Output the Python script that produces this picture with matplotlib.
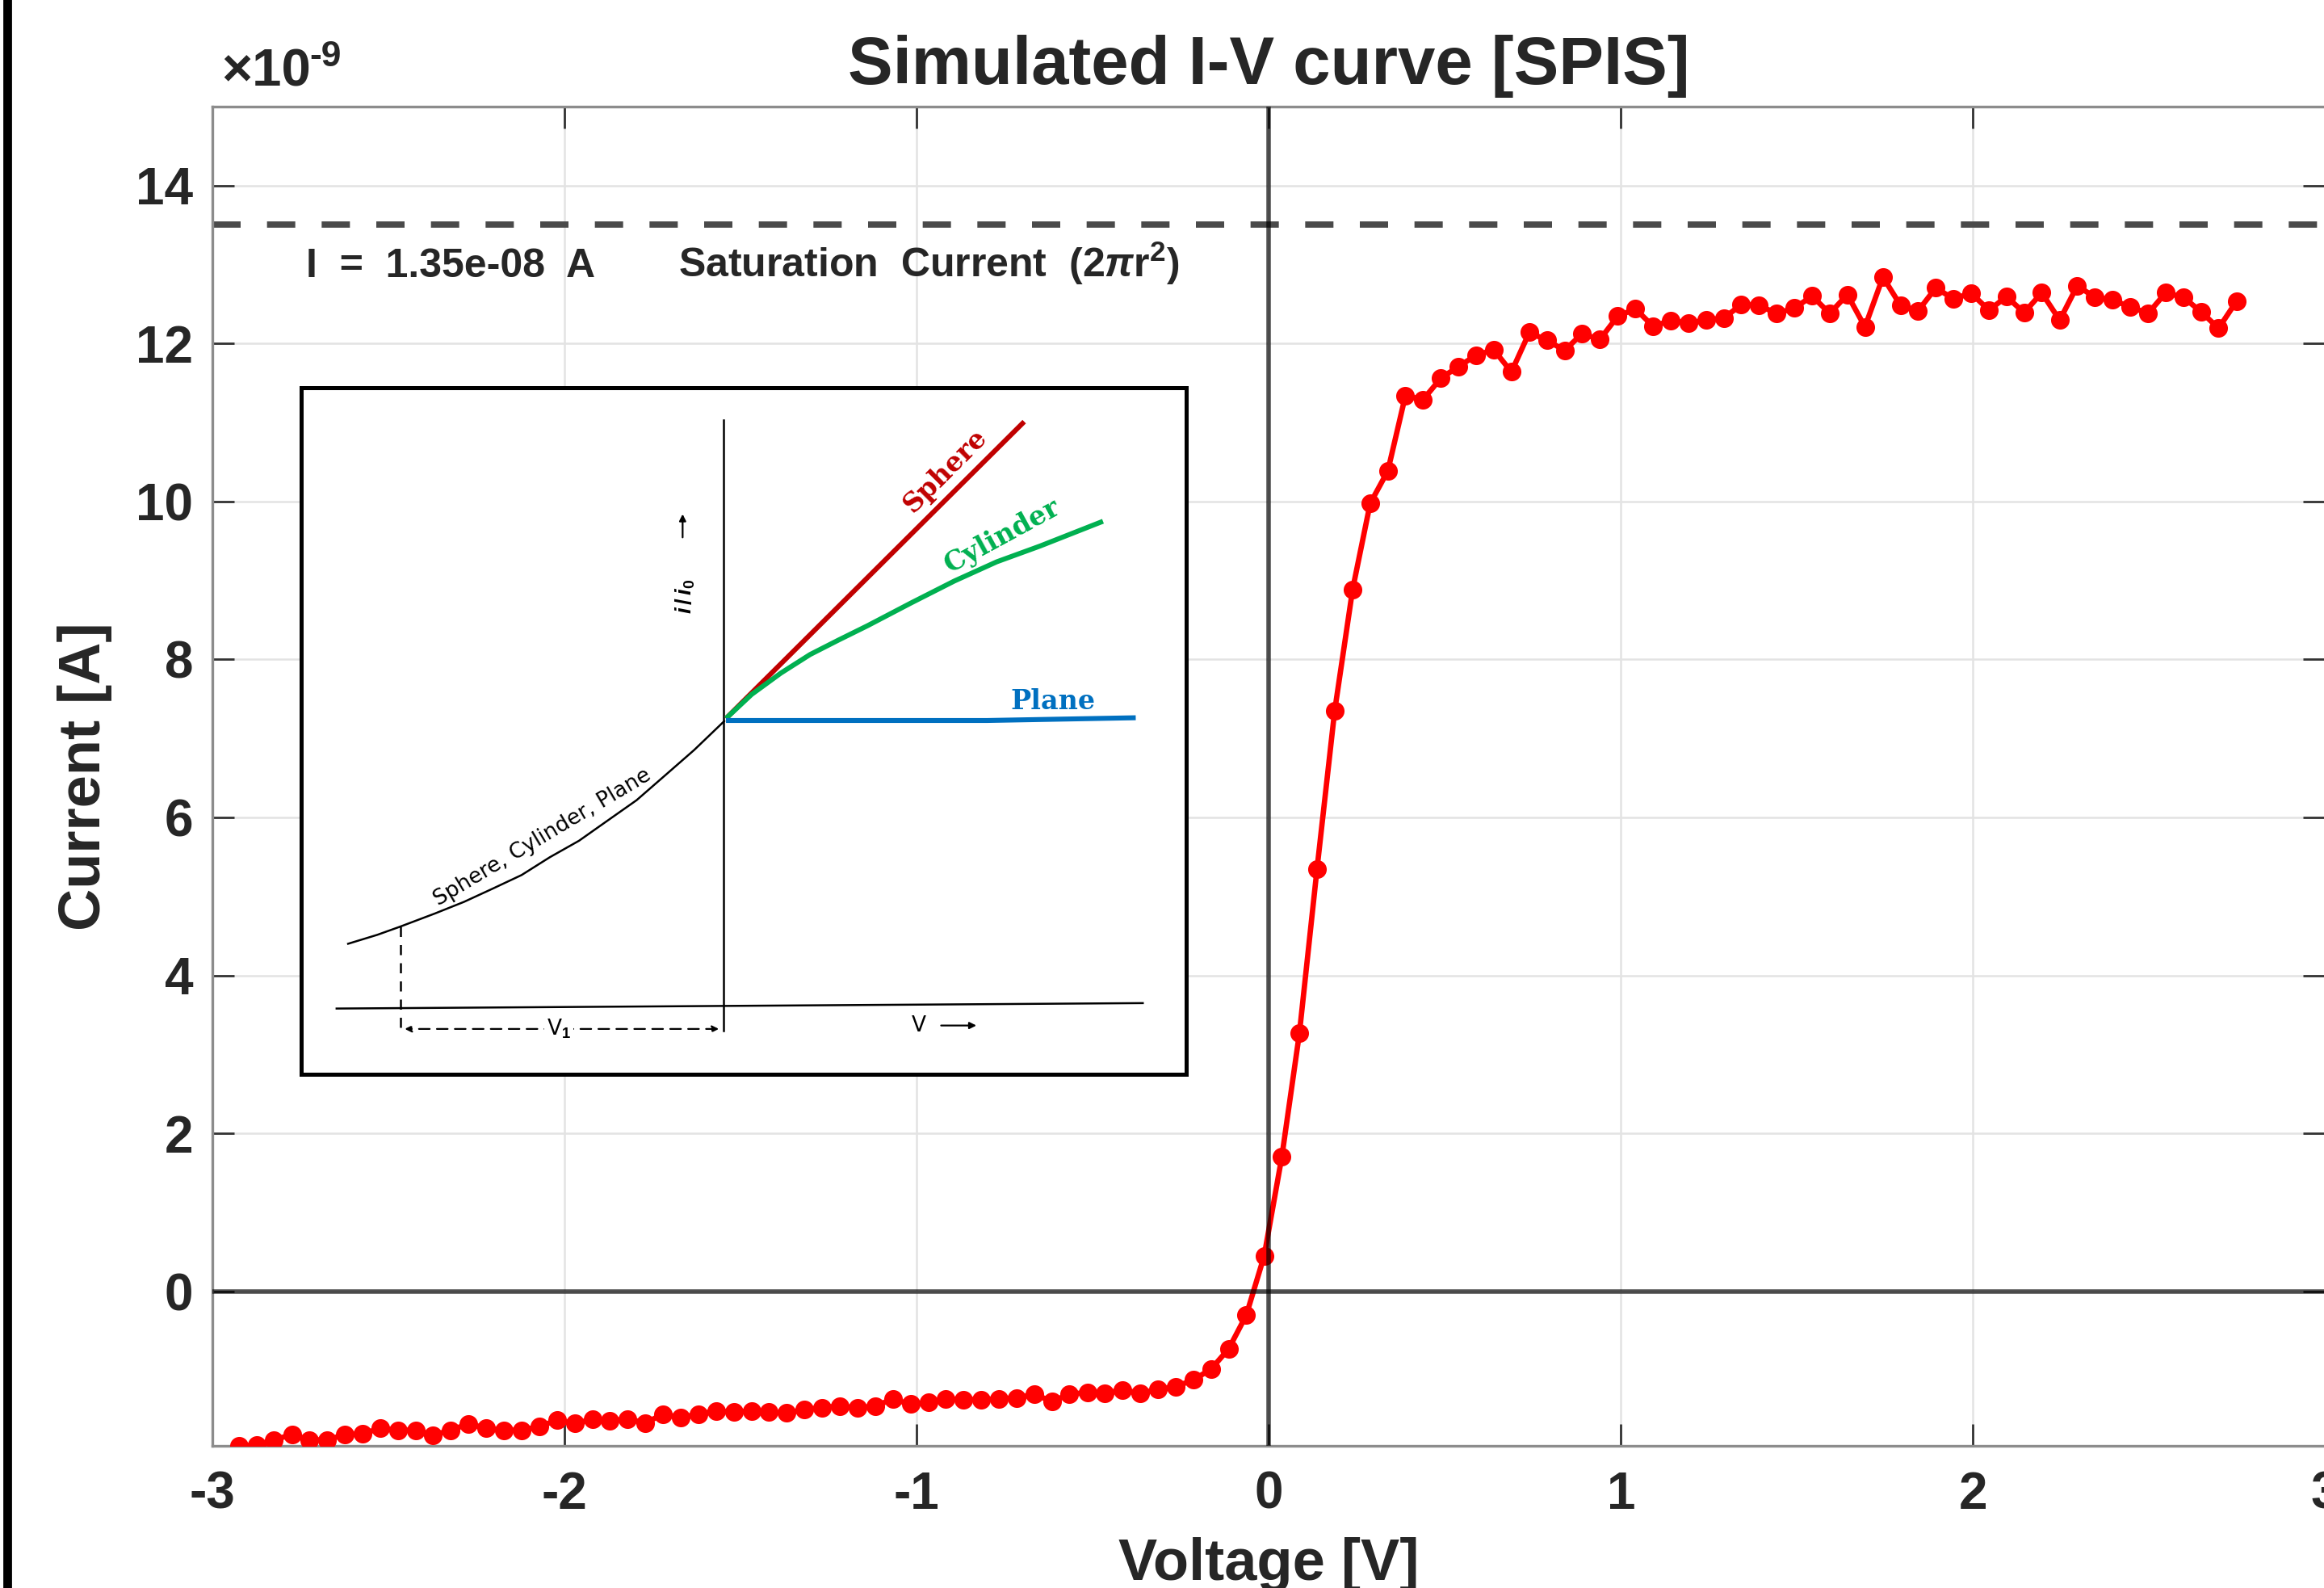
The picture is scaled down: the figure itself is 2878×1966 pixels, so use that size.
import numpy as np
import matplotlib

matplotlib.use('Agg')
import matplotlib.pyplot as plt
from matplotlib.patches import Rectangle

plt.rcParams['font.family'] = ['Liberation Sans', 'DejaVu Sans']
plt.rcParams['font.weight'] = 'bold'
plt.rcParams['axes.labelweight'] = 'bold'
plt.rcParams['axes.unicode_minus'] = False
plt.rcParams['mathtext.fontset'] = 'custom'
plt.rcParams['mathtext.rm'] = 'Liberation Sans:bold'
plt.rcParams['mathtext.it'] = 'Liberation Sans:italic:bold'
plt.rcParams['mathtext.bf'] = 'Liberation Sans:bold'

# sweep voltages [V]
voltage = [
    -2.925, -2.875, -2.825, -2.774, -2.724, -2.674, -2.624, -2.574, -2.523, -2.473,
    -2.423, -2.373, -2.323, -2.272, -2.222, -2.172, -2.122, -2.072, -2.021, -1.971,
    -1.921, -1.871, -1.821, -1.770, -1.720, -1.670, -1.620, -1.570, -1.519, -1.469,
    -1.419, -1.369, -1.319, -1.268, -1.218, -1.168, -1.118, -1.068, -1.017, -0.967,
    -0.917, -0.867, -0.817, -0.766, -0.716, -0.666, -0.616, -0.566, -0.515, -0.465,
    -0.415, -0.365, -0.315, -0.264, -0.214, -0.164, -0.114, -0.064, -0.013, 0.037,
    0.087, 0.137, 0.187, 0.238, 0.288, 0.338, 0.388, 0.438, 0.489, 0.539,
    0.589, 0.639, 0.689, 0.740, 0.790, 0.840, 0.890, 0.940, 0.991, 1.041,
    1.091, 1.141, 1.191, 1.242, 1.292, 1.342, 1.392, 1.442, 1.493, 1.543,
    1.593, 1.643, 1.693, 1.744, 1.794, 1.844, 1.894, 1.944, 1.995, 2.045,
    2.095, 2.145, 2.195, 2.246, 2.296, 2.346, 2.396, 2.446, 2.497, 2.547,
    2.597, 2.647, 2.697, 2.748,
]

# collected current, in units of 1e-9 A
current_nA = [
    -1.953, -1.945, -1.878, -1.810, -1.878, -1.878, -1.810, -1.800, -1.731, -1.755,
    -1.755, -1.817, -1.755, -1.673, -1.731, -1.755, -1.755, -1.708, -1.629, -1.668,
    -1.619, -1.639, -1.612, -1.663, -1.551, -1.595, -1.551, -1.510, -1.527, -1.510,
    -1.527, -1.537, -1.493, -1.469, -1.449, -1.476, -1.449, -1.363, -1.425, -1.405,
    -1.357, -1.367, -1.367, -1.357, -1.346, -1.299, -1.391, -1.299, -1.278, -1.288,
    -1.244, -1.288, -1.237, -1.203, -1.118, -0.982, -0.726, -0.300, 0.453, 1.704,
    3.270, 5.350, 7.346, 8.885, 9.976, 10.385, 11.339, 11.288, 11.561, 11.708,
    11.851, 11.919, 11.639, 12.140, 12.038, 11.912, 12.124, 12.048, 12.345, 12.437,
    12.219, 12.287, 12.256, 12.294, 12.321, 12.491, 12.481, 12.379, 12.447, 12.600,
    12.379, 12.618, 12.209, 12.840, 12.481, 12.413, 12.702, 12.566, 12.635, 12.420,
    12.592, 12.389, 12.641, 12.294, 12.730, 12.584, 12.549, 12.464, 12.379, 12.641,
    12.584, 12.403, 12.191, 12.532,
]

I_sat = 1.35e-8  # saturation current [A]

x_ticks = [-3, -2, -1, 0, 1, 2, 3]
y_ticks = [0, 2, 4, 6, 8, 10, 12, 14]

# inset sketch (after the classic probe-theory figure), in inset fractions
common_x = [0.053, 0.086, 0.112, 0.151, 0.184, 0.216, 0.249, 0.281, 0.314, 0.347, 0.379, 0.412, 0.444, 0.478]
common_y = [0.190, 0.203, 0.215, 0.234, 0.251, 0.270, 0.290, 0.316, 0.340, 0.370, 0.399, 0.436, 0.472, 0.514]
sphere_x = [0.480, 0.817]
sphere_y = [0.518, 0.950]
cylinder_x = [0.480, 0.509, 0.542, 0.575, 0.607, 0.640, 0.689, 0.738, 0.786, 0.835, 0.906]
cylinder_y = [0.518, 0.553, 0.584, 0.611, 0.632, 0.653, 0.686, 0.718, 0.746, 0.769, 0.805]
plane_x = [0.480, 0.775, 0.943]
plane_y = [0.515, 0.515, 0.519]

txt = '#262626'

fig = plt.figure(figsize=(14.39, 9.83), dpi=200)
ax = fig.add_axes([0.09138, 0.08952, 0.90914, 0.84349])

ax.plot(voltage, current_nA, '-o', color='red', lw=2.4, ms=7.3, zorder=3)
ax.axhline(0, color='black', alpha=0.68, lw=2.0, zorder=4)
ax.axvline(0, color='black', alpha=0.68, lw=2.0, zorder=4)
ax.axhline(I_sat * 1e9, color='#4a4a4a', lw=2.8, dashes=(4.5, 4.2), zorder=2)

ax.set_xlim(-3, 3)
ax.set_ylim(min(current_nA), 15)
ax.set_xticks(x_ticks)
ax.set_yticks(y_ticks)
ax.set_xticklabels([str(t) for t in x_ticks])
ax.set_yticklabels([str(t) for t in y_ticks])
ax.grid(True, color='#e3e3e3', lw=0.9)
ax.set_axisbelow(True)
ax.tick_params(direction='in', length=9.7, width=1.0, color='#333333',
               top=True, right=True, labelsize=23, labelcolor=txt)
ax.tick_params(axis='x', pad=11)
ax.tick_params(axis='y', pad=8.5)
for s in ax.spines.values():
    s.set_color('#8c8c8c')
    s.set_linewidth(1.2)

ax.set_xlabel('Voltage [V]', fontsize=26, color=txt, fontweight='bold')
ax.set_ylabel('Current [A]', fontsize=26, color=txt, fontweight='bold')
ax.xaxis.set_label_coords(0.5, -0.068)
ax.yaxis.set_label_coords(-0.0474, 0.5)
ax.text(0.5, 1.0165, 'Simulated I-V curve [SPIS]', transform=ax.transAxes,
        ha='center', va='baseline', fontsize=30, color=txt)

fig.text(274 / 2878, 0.9456, '×10', fontsize=23.5, color=txt, va='baseline')
fig.text(383 / 2878, 0.9583, '-9', fontsize=16, color=txt, va='baseline')

ax.text(-2.734, 12.84, f'I  =  {I_sat:.2e}  A', fontsize=18, color=txt, va='baseline')
ax.text(-1.677, 12.84, r'Saturation  Current  (2$\pi$r$^2$)', fontsize=18,
        color=txt, va='baseline')

# left edge border of the screenshot
fig.patches.append(Rectangle((5 / 2878, 0), 8 / 2878, 1, transform=fig.transFigure,
                             color='black', zorder=10))

# inset sketch
ins = fig.add_axes([0.1296, 0.3235, 0.3808, 0.4326])
ins.set_xlim(0, 1)
ins.set_ylim(0, 1)
ins.set_xticks([])
ins.set_yticks([])
for s in ins.spines.values():
    s.set_color('black')
    s.set_linewidth(1.8)

ins.plot([0.477, 0.477], [0.952, 0.063], color='black', lw=0.9)
ins.plot([0.040, 0.951], [0.0957, 0.1036], color='black', lw=0.9)
ins.plot([0.112, 0.112], [0.215, 0.060], color='black', lw=0.9, dashes=(5, 4))
ins.plot(common_x, common_y, color='black', lw=0.9)
ins.annotate('', xy=(0.112, 0.066), xytext=(0.477, 0.066),
             arrowprops=dict(arrowstyle='<|-|>', lw=0.8, ls=(0, (6, 4)),
                             color='black', mutation_scale=6))
ins.text(0.291, 0.066, r'V$_1$', fontsize=9.5, fontweight='normal', ha='center',
         va='center', family='DejaVu Sans',
         bbox=dict(facecolor='white', edgecolor='none', pad=1))
ins.text(0.698, 0.071, 'V', fontsize=9.5, fontweight='normal', ha='center',
         va='center', family='DejaVu Sans')
ins.annotate('', xy=(0.768, 0.071), xytext=(0.718, 0.071),
             arrowprops=dict(arrowstyle='-|>', lw=0.8, color='black', mutation_scale=6))
ins.annotate('', xy=(0.431, 0.822), xytext=(0.431, 0.775),
             arrowprops=dict(arrowstyle='-|>', lw=0.8, color='black', mutation_scale=6))
ins.text(0.4345, 0.696, r'$i\,/\,i_0$', fontsize=10, rotation=90, ha='center',
         va='center', family='DejaVu Sans')
ins.text(0.273, 0.345, 'Sphere, Cylinder, Plane', fontsize=9.5, fontweight='normal',
         rotation=30.8, ha='center', va='center', family='DejaVu Sans',
         rotation_mode='anchor')

ins.plot(sphere_x, sphere_y, color='#C00000', lw=2.2, solid_capstyle='butt')
ins.plot(cylinder_x, cylinder_y, color='#00B050', lw=2.2, solid_capstyle='butt')
ins.plot(plane_x, plane_y, color='#0070C0', lw=2.2, solid_capstyle='butt')
ins.text(0.728, 0.879, 'Sphere', color='#C00000', fontsize=12, rotation=45,
         ha='center', va='center', family='DejaVu Serif', fontweight='bold',
         rotation_mode='anchor')
ins.text(0.792, 0.784, 'Cylinder', color='#00B050', fontsize=12, rotation=28.6,
         ha='center', va='center', family='DejaVu Serif', fontweight='bold',
         rotation_mode='anchor')
ins.text(0.8495, 0.5426, 'Plane', color='#0070C0', fontsize=12,
         ha='center', va='center', family='DejaVu Serif', fontweight='bold')

fig.savefig('out.png', dpi=200)
